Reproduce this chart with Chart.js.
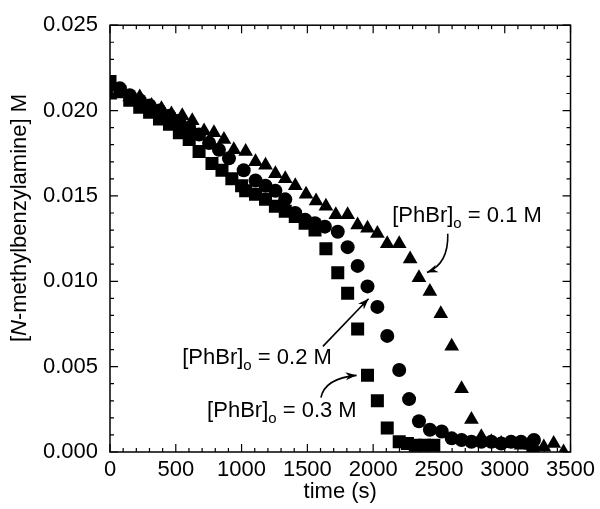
<!DOCTYPE html>
<html>
<head>
<meta charset="utf-8">
<script src="https://cdn.jsdelivr.net/npm/chart.js@4/dist/chart.umd.min.js"></script>
<style>
  body { margin: 0; background: #fff; }
  canvas { display: block; }
</style>
</head>
<body>
<canvas id="kinChart" width="600" height="509"></canvas>
<script>

// [PhBr]o = 0.1 M (triangles)
var triTime = [0, 75, 150, 226, 316, 391, 467, 549, 625, 715, 790, 866, 941, 1031, 1106, 1182, 1257, 1332, 1408, 1490, 1566, 1641, 1716, 1806, 1882, 1957, 2032, 2107, 2198, 2281, 2348, 2431, 2514, 2597, 2672, 2747, 2822, 2898, 2973, 3048, 3124, 3199, 3297, 3372, 3447];
var triConc = [0.0209, 0.0210, 0.0208, 0.0208, 0.0203, 0.0201, 0.0198, 0.0197, 0.0194, 0.0188, 0.0187, 0.0183, 0.0177, 0.0176, 0.0170, 0.0168, 0.0163, 0.0160, 0.0156, 0.0151, 0.0147, 0.0144, 0.0139, 0.0139, 0.0133, 0.0131, 0.0128, 0.0122, 0.0122, 0.0113, 0.0102, 0.0094, 0.0081, 0.0062, 0.0037, 0.0019, 0.0009, 0.0006, 0.0005, 0.0005, 0.0004, 0.0004, 0.0003, 0.0005, 0.0000];

// [PhBr]o = 0.2 M (circles)
var cirTime = [0, 75, 150, 226, 301, 376, 452, 527, 602, 677, 753, 828, 904, 1016, 1106, 1182, 1257, 1332, 1408, 1483, 1558, 1633, 1731, 1806, 1882, 1957, 2032, 2107, 2198, 2273, 2348, 2431, 2521, 2597, 2672, 2747, 2822, 2898, 2973, 3048, 3124, 3199, 3222];
var cirConc = [0.0215, 0.0213, 0.0209, 0.0206, 0.0203, 0.0200, 0.0197, 0.0194, 0.0190, 0.0186, 0.0181, 0.0177, 0.0172, 0.0165, 0.0159, 0.0156, 0.0153, 0.0148, 0.0140, 0.0136, 0.0134, 0.0132, 0.0129, 0.0120, 0.0109, 0.0097, 0.0085, 0.0068, 0.0048, 0.0031, 0.0018, 0.0013, 0.0012, 0.0008, 0.0007, 0.0006, 0.0006, 0.0006, 0.0005, 0.0006, 0.0006, 0.0005, 0.0007];

// [PhBr]o = 0.3 M (squares)
var sqTime = [0, 75, 150, 226, 301, 376, 452, 527, 602, 677, 775, 851, 926, 1000, 1031, 1106, 1182, 1257, 1332, 1408, 1483, 1558, 1641, 1731, 1806, 1882, 1957, 2032, 2107, 2198, 2260, 2320, 2390, 2461, 3214];
var sqConc = [0.0217, 0.0211, 0.0206, 0.0202, 0.0199, 0.0195, 0.0192, 0.0187, 0.0183, 0.0176, 0.0169, 0.0165, 0.0160, 0.0156, 0.0153, 0.0151, 0.0148, 0.0144, 0.0141, 0.0138, 0.0134, 0.0130, 0.0119, 0.0105, 0.0093, 0.0072, 0.0045, 0.0030, 0.0014, 0.0006, 0.0005, 0.0004, 0.0004, 0.0004, 0.0000];

// axis ticks
var xTicks = [0, 500, 1000, 1500, 2000, 2500, 3000, 3500];
var yTicks = [0.000, 0.005, 0.010, 0.015, 0.020, 0.025];

// annotation labels and arrows (data units)
var labels = [
    { conc: '0.1', t: 2145, v: 0.01347 },
    { conc: '0.2', t: 549, v: 0.00517 },
    { conc: '0.3', t: 738, v: 0.00205 }
];
var arrows = [
    { from: [2567, 0.01278], ctrl: [2574, 0.01102], to: [2409, 0.01051] },
    { from: [1618, 0.00619], ctrl: null, to: [1965, 0.00898] },
    { from: [1603, 0.00318], ctrl: [1633, 0.00432], to: [1874, 0.00449] }
];

var FONT = '"Liberation Sans", Arial, Helvetica, sans-serif';

function pts(xs, ys) {
    return xs.map(function (x, i) { return { x: x, y: ys[i] }; });
}

var framePlugin = {
    id: 'frame',
    afterDatasetsDraw: function (chart) {
        var ctx = chart.ctx, a = chart.chartArea;
        var xs = chart.scales.x, ys = chart.scales.y;
        ctx.save();
        ctx.strokeStyle = '#000';
        ctx.lineWidth = 1.5;
        ctx.strokeRect(a.left, a.top, a.right - a.left, a.bottom - a.top);

        // inward ticks, all four sides
        ctx.lineWidth = 1.2;
        ctx.beginPath();
        for (var t = 0; t <= 3500; t += 100) {
            var px = xs.getPixelForValue(t);
            var len = (t % 500 === 0) ? 8 : 4;
            ctx.moveTo(px, a.bottom); ctx.lineTo(px, a.bottom - len);
            ctx.moveTo(px, a.top); ctx.lineTo(px, a.top + len);
        }
        for (var k = 0; k <= 25; k++) {
            var py = ys.getPixelForValue(k * 0.001);
            var l2 = (k % 5 === 0) ? 8 : 4;
            ctx.moveTo(a.left, py); ctx.lineTo(a.left + l2, py);
            ctx.moveTo(a.right, py); ctx.lineTo(a.right - l2, py);
        }
        ctx.stroke();

        // axis titles
        ctx.fillStyle = '#000';
        ctx.font = '22px ' + FONT;
        ctx.textAlign = 'center';
        ctx.textBaseline = 'alphabetic';
        ctx.fillText('time (s)', (a.left + a.right) / 2, 498);

        ctx.save();
        ctx.translate(26, 218);
        ctx.rotate(-Math.PI / 2);
        var p1 = '[', p2 = 'N', p3 = '-methylbenzylamine] M';
        ctx.font = '22px ' + FONT;
        var w1 = ctx.measureText(p1).width, w3 = ctx.measureText(p3).width;
        ctx.font = 'italic 22px ' + FONT;
        var w2 = ctx.measureText(p2).width;
        var x0 = -(w1 + w2 + w3) / 2;
        ctx.textAlign = 'left';
        ctx.font = '22px ' + FONT;
        ctx.fillText(p1, x0, 0);
        ctx.font = 'italic 22px ' + FONT;
        ctx.fillText(p2, x0 + w1, 0);
        ctx.font = '22px ' + FONT;
        ctx.fillText(p3, x0 + w1 + w2, 0);
        ctx.restore();

        // annotation labels
        labels.forEach(function (lb) {
            var x = xs.getPixelForValue(lb.t), y = ys.getPixelForValue(lb.v);
            ctx.textAlign = 'left';
            ctx.font = '22px ' + FONT;
            ctx.fillText('[PhBr]', x, y);
            x += ctx.measureText('[PhBr]').width;
            ctx.font = '15px ' + FONT;
            ctx.fillText('o', x, y + 6);
            x += ctx.measureText('o').width;
            ctx.font = '22px ' + FONT;
            ctx.fillText(' = ' + lb.conc + ' M', x, y);
        });

        // arrows
        ctx.lineWidth = 1.6;
        arrows.forEach(function (ar) {
            var sx = xs.getPixelForValue(ar.from[0]), sy = ys.getPixelForValue(ar.from[1]);
            var ex = xs.getPixelForValue(ar.to[0]), ey = ys.getPixelForValue(ar.to[1]);
            var dx, dy;
            ctx.beginPath();
            ctx.moveTo(sx, sy);
            if (ar.ctrl) {
                var cx = xs.getPixelForValue(ar.ctrl[0]), cy = ys.getPixelForValue(ar.ctrl[1]);
                ctx.quadraticCurveTo(cx, cy, ex, ey);
                dx = ex - cx; dy = ey - cy;
            } else {
                ctx.lineTo(ex, ey);
                dx = ex - sx; dy = ey - sy;
            }
            ctx.stroke();
            var ang = Math.atan2(dy, dx), hl = 11, hw = 4;
            ctx.beginPath();
            ctx.moveTo(ex, ey);
            ctx.lineTo(ex - hl * Math.cos(ang) + hw * Math.sin(ang), ey - hl * Math.sin(ang) - hw * Math.cos(ang));
            ctx.lineTo(ex - 0.7 * hl * Math.cos(ang), ey - 0.7 * hl * Math.sin(ang));
            ctx.lineTo(ex - hl * Math.cos(ang) - hw * Math.sin(ang), ey - hl * Math.sin(ang) + hw * Math.cos(ang));
            ctx.closePath();
            ctx.fill();
        });
        ctx.restore();
    }
};

var ctx = document.getElementById('kinChart').getContext('2d');
var kinChart = new Chart(ctx, {
    type: 'scatter',
    data: {
        datasets: [{
            label: '0.1 M',
            data: pts(triTime, triConc),
            pointStyle: 'triangle',
            pointRadius: 8.5,
            backgroundColor: '#000',
            borderColor: '#000',
            borderWidth: 0
        }, {
            label: '0.2 M',
            data: pts(cirTime, cirConc),
            pointStyle: 'circle',
            pointRadius: 7,
            backgroundColor: '#000',
            borderColor: '#000',
            borderWidth: 0
        }, {
            label: '0.3 M',
            data: pts(sqTime, sqConc),
            pointStyle: 'rect',
            pointRadius: 9.2,
            backgroundColor: '#000',
            borderColor: '#000',
            borderWidth: 0
        }]
    },
    options: {
        responsive: false,
        devicePixelRatio: 1,
        animation: false,
        layout: {
            padding: { top: 12, right: 25, left: 0, bottom: 0 }
        },
        plugins: {
            legend: { display: false },
            tooltip: { enabled: false }
        },
        scales: {
            x: {
                type: 'linear',
                min: 0,
                max: 3500,
                afterFit: function (s) { s.height = 57; },
                afterBuildTicks: function (s) { s.ticks = xTicks.map(function (v) { return { value: v }; }); },
                grid: { display: false, drawTicks: false },
                border: { display: false },
                ticks: {
                    padding: 5,
                    color: '#000',
                    maxRotation: 0,
                    font: { family: FONT, size: 22 },
                    callback: function (v) { return String(v); }
                }
            },
            y: {
                type: 'linear',
                min: 0,
                max: 0.025,
                afterFit: function (s) { s.width = 110; },
                afterBuildTicks: function (s) { s.ticks = yTicks.map(function (v) { return { value: v }; }); },
                grid: { display: false, drawTicks: false },
                border: { display: false },
                ticks: {
                    padding: 12,
                    color: '#000',
                    font: { family: FONT, size: 22 },
                    callback: function (v) { return v.toFixed(3); }
                }
            }
        }
    },
    plugins: [framePlugin]
});

</script>
</body>
</html>
